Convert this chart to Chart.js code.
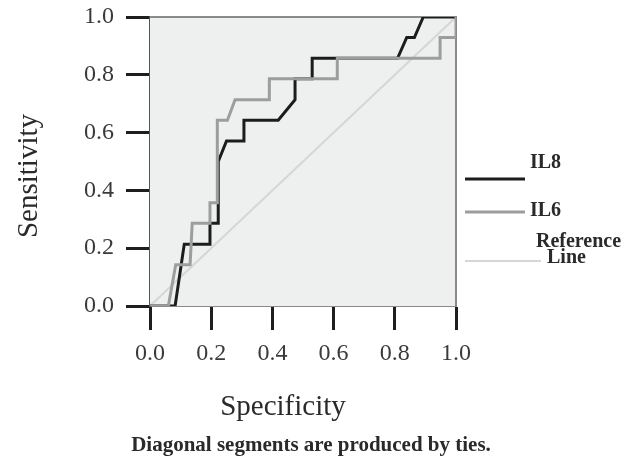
<!DOCTYPE html>
<html>
<head>
<meta charset="utf-8">
<script src="https://cdn.jsdelivr.net/npm/chart.js@4"></script>
<style>
  html, body { margin: 0; padding: 0; background: #fff; }
  #wrap { width: 631px; height: 468px; }
</style>
</head>
<body>
<div id="wrap"><canvas id="roc" width="631" height="468"></canvas></div>
<script>
// ROC curves (x = 1 - specificity, y = sensitivity)
const il8X = [0, 0.082, 0.112, 0.196, 0.196, 0.223, 0.223, 0.223, 0.25, 0.307, 0.307, 0.419, 0.474, 0.474, 0.53, 0.53, 0.809, 0.839, 0.864, 0.893, 1.0];
const il8Y = [0, 0, 0.214, 0.214, 0.286, 0.286, 0.357, 0.5, 0.571, 0.571, 0.643, 0.643, 0.714, 0.786, 0.786, 0.857, 0.857, 0.929, 0.929, 1.0, 1.0];
const il6X = [0, 0.06, 0.084, 0.131, 0.138, 0.196, 0.196, 0.22, 0.22, 0.253, 0.278, 0.39, 0.39, 0.612, 0.612, 0.948, 0.948, 1.0, 1.0];
const il6Y = [0, 0, 0.143, 0.143, 0.286, 0.286, 0.357, 0.357, 0.643, 0.643, 0.714, 0.714, 0.786, 0.786, 0.857, 0.857, 0.929, 0.929, 1.0];
const refX = [0, 1];
const refY = [0, 1];
const tickValues = [0, 0.2, 0.4, 0.6, 0.8, 1.0];
const seriesNames = ['IL8', 'IL6', 'Reference Line'];

const SERIF = '"Liberation Serif", "DejaVu Serif", serif';

function toPoints(xs, ys) {
    return xs.map((x, i) => ({ x: x, y: ys[i] }));
}

// plot background + top/right frame
const frame = {
    id: 'frame',
    beforeDatasetsDraw(chart) {
        const { ctx, chartArea: a } = chart;
        ctx.save();
        ctx.fillStyle = '#eef0ef';
        ctx.fillRect(a.left, a.top, a.right - a.left, a.bottom - a.top);
        ctx.strokeStyle = '#8a8a8a';
        ctx.lineWidth = 2;
        ctx.beginPath();
        ctx.moveTo(a.left, a.top);
        ctx.lineTo(a.right, a.top);
        ctx.lineTo(a.right, a.bottom);
        ctx.stroke();
        ctx.restore();
    }
};

// axis titles, footnote and the side legend
const labels = {
    id: 'labels',
    afterDraw(chart) {
        const ctx = chart.ctx;
        ctx.save();
        ctx.fillStyle = '#2a2a2a';
        ctx.textAlign = 'center';
        ctx.textBaseline = 'alphabetic';
        ctx.font = '29px ' + SERIF;
        ctx.fillText('Specificity', 283, 415);
        ctx.save();
        ctx.translate(37, 176);
        ctx.rotate(-Math.PI / 2);
        ctx.fillText('Sensitivity', 0, 0);
        ctx.restore();
        ctx.font = 'bold 21px ' + SERIF;
        ctx.fillText('Diagonal segments are produced by ties.', 311, 451);

        // legend
        const ds = chart.data.datasets;
        const items = [
            { d: ds[0], x1: 465, x2: 525, ly: 179, text: [[530, 168]] },
            { d: ds[1], x1: 465, x2: 525, ly: 212, text: [[530, 216]] },
            { d: ds[2], x1: 465, x2: 541, ly: 261, text: [[536, 247], [547, 263]] }
        ];
        ctx.textAlign = 'left';
        ctx.font = 'bold 20px ' + SERIF;
        items.forEach(it => {
            ctx.strokeStyle = it.d.borderColor;
            ctx.lineWidth = it.d.borderWidth;
            ctx.beginPath();
            ctx.moveTo(it.x1, it.ly);
            ctx.lineTo(it.x2, it.ly);
            ctx.stroke();
            const words = it.text.length > 1 ? it.d.label.split(' ') : [it.d.label];
            ctx.fillStyle = '#2a2a2a';
            it.text.forEach((p, i) => ctx.fillText(words[i], p[0], p[1]));
        });
        ctx.restore();
    }
};

new Chart(document.getElementById('roc'), {
    type: 'scatter',
    data: {
        datasets: [
            {
                label: seriesNames[0],
                data: toPoints(il8X, il8Y),
                showLine: true,
                borderColor: '#1c1c1c',
                borderWidth: 3,
                pointRadius: 0,
                order: 1
            },
            {
                label: seriesNames[1],
                data: toPoints(il6X, il6Y),
                showLine: true,
                borderColor: '#9d9d9d',
                borderWidth: 3,
                pointRadius: 0,
                order: 0
            },
            {
                label: seriesNames[2],
                data: toPoints(refX, refY),
                showLine: true,
                borderColor: '#d6d6d6',
                borderWidth: 2,
                pointRadius: 0,
                order: 2
            }
        ]
    },
    options: {
        responsive: false,
        animation: false,
        layout: { padding: { left: 0, right: 175, top: 17, bottom: 0 } },
        plugins: {
            legend: { display: false },
            tooltip: { enabled: false }
        },
        scales: {
            x: {
                type: 'linear',
                min: 0,
                max: 1,
                afterFit: s => { s.height = 162; s.paddingLeft = 0; s.paddingRight = 0; },
                afterBuildTicks: s => { s.ticks = tickValues.map(v => ({ value: v })); },
                border: { display: true, color: '#8a8a8a', width: 2 },
                grid: { drawOnChartArea: false, tickLength: 24, tickWidth: 3, color: '#1e1e1e' },
                ticks: {
                    padding: 9,
                    color: '#3a3a3a',
                    font: { family: SERIF, size: 24 },
                    maxRotation: 0,
                    callback: v => v.toFixed(1)
                }
            },
            y: {
                type: 'linear',
                min: 0,
                max: 1,
                afterFit: s => { s.width = 150; s.paddingTop = 0; s.paddingBottom = 0; },
                afterBuildTicks: s => { s.ticks = tickValues.map(v => ({ value: v })); },
                border: { display: true, color: '#555', width: 2 },
                grid: { drawOnChartArea: false, tickLength: 24, tickWidth: 3, color: '#1e1e1e' },
                ticks: {
                    padding: 12,
                    color: '#3a3a3a',
                    font: { family: SERIF, size: 24 },
                    callback: v => v.toFixed(1)
                }
            }
        }
    },
    plugins: [frame, labels]
});
</script>
</body>
</html>
